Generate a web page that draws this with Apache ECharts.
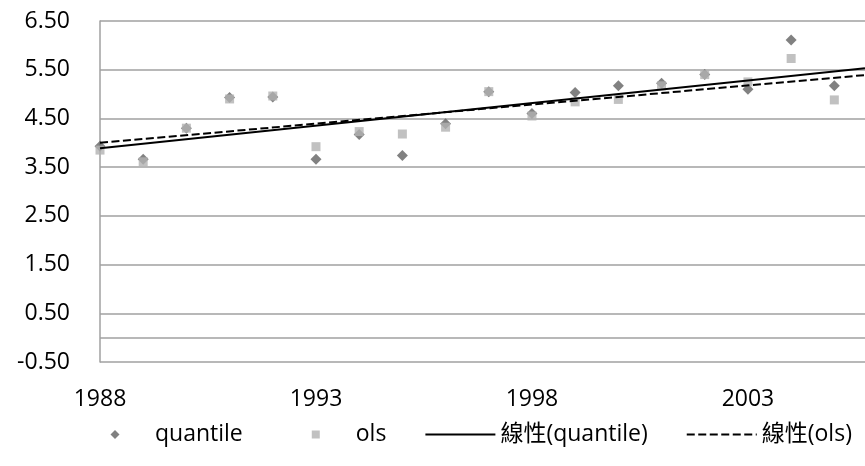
<!DOCTYPE html>
<html>
<head>
<meta charset="utf-8">
<script src="https://cdn.jsdelivr.net/npm/echarts@6/dist/echarts.min.js"></script>
<style>
html,body{margin:0;padding:0;background:#fff;}
#chart{width:865px;height:466px;}
</style>
</head>
<body>
<div id="chart"></div>
<script>
const years = [1988,1989,1990,1991,1992,1993,1994,1995,1996,1997,1998,1999,2000,2001,2002,2003,2004,2005];
const quantile = [3.93,3.66,4.30,4.93,4.94,3.66,4.17,3.74,4.39,5.05,4.60,5.03,5.17,5.22,5.40,5.10,6.11,5.17];
const ols = [3.85,3.61,4.30,4.90,4.96,3.92,4.23,4.18,4.32,5.05,4.55,4.84,4.89,5.17,5.40,5.25,5.73,4.88];
const trendX = [1988, 2005.71];
const trendQuantile = [3.89, 5.53];
const trendOls = [4.00, 5.39];
const xTickLabels = ['1988','1993','1998','2003'];
const seriesNames = ['quantile','ols','線性(quantile)','線性(ols)'];

const FONT = '"Open Sans", "Noto Sans CJK TC", sans-serif';
const chart = echarts.init(document.getElementById('chart'), null, {renderer:'canvas'});
const pairs = (xs, ys) => xs.map((x,i)=>[x, ys[i]]);

// legend icons: full 70x9 box (move-to corners) with the marker drawn in its centre
const diamondIcon = 'path://M0 0M70 9M35 0L39.5 4.5L35 9L30.5 4.5Z';
const squareIcon = 'path://M0 0M70 9M31 0.5L39 0.5L39 8.5L31 8.5Z';

chart.setOption({
  animation:false,
  backgroundColor:'#fff',
  textStyle:{fontFamily:FONT},
  grid:{left:100, right:0, top:21, bottom:104, containLabel:false},
  xAxis:{
    type:'value', min:1988, max:trendX[1], interval:5,
    axisLine:{show:false}, axisTick:{show:false}, splitLine:{show:false},
    axisLabel:{
      color:'#000', fontSize:23, fontFamily:FONT, margin:26,
      showMaxLabel:false,
      formatter:v=>{ const s=String(Math.round(v)); return xTickLabels.includes(s)&&Math.abs(v-Math.round(v))<1e-6 ? s : ''; }
    }
  },
  yAxis:{
    type:'value', min:-0.5, max:6.5, interval:1,
    axisLine:{show:true, lineStyle:{color:'#a0a0a0', width:1.5}},
    axisTick:{show:false},
    splitLine:{show:true, lineStyle:{color:'#a0a0a0', width:1.5}},
    axisLabel:{color:'#000', fontSize:23, fontFamily:FONT, margin:30, formatter:v=>v.toFixed(2)}
  },
  legend:{
    data:[
      {name:seriesNames[0], icon:diamondIcon},
      {name:seriesNames[1], icon:squareIcon},
      {name:seriesNames[2]},
      {name:seriesNames[3]}
    ],
    left:75, top:418,
    itemWidth:70, itemHeight:9, itemGap:38, symbolKeepAspect:true,
    textStyle:{color:'#000', fontSize:23, fontFamily:FONT}
  },
  series:[
    {
      name:seriesNames[0], type:'scatter', symbol:'diamond', symbolSize:[11,11],
      itemStyle:{color:'#626262'},
      data:pairs(years, quantile),
      markLine:{
        silent:true, symbol:'none', label:{show:false},
        lineStyle:{color:'#a0a0a0', width:1.5, type:'solid'},
        data:[{yAxis:0}]
      }
    },
    {
      name:seriesNames[1], type:'scatter', symbol:'rect', symbolSize:9,
      itemStyle:{color:'#b2b2b2'},
      data:pairs(years, ols)
    },
    {
      name:seriesNames[2], type:'line', symbol:'none', z:3,
      lineStyle:{color:'#000', width:2, type:'solid'},
      itemStyle:{color:'rgba(0,0,0,0)'},
      data:pairs(trendX, trendQuantile)
    },
    {
      name:seriesNames[3], type:'line', symbol:'none', z:3,
      lineStyle:{color:'#000', width:2, type:[8,3.5]},
      itemStyle:{color:'rgba(0,0,0,0)'},
      data:pairs(trendX, trendOls)
    }
  ]
});
</script>
</body>
</html>
